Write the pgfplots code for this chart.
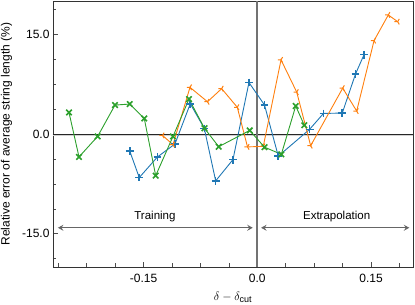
\documentclass[border=0pt]{standalone}
\usepackage{pgfplots}
\pgfplotsset{compat=1.18}
\usepackage{fontspec}
\setmainfont{Liberation Sans}
\usetikzlibrary{arrows.meta}
\definecolor{tabblue}{HTML}{1F77B4}
\definecolor{taborange}{HTML}{FF7F0E}
\definecolor{tabgreen}{HTML}{2CA02C}
\begin{document}
\begin{tikzpicture}
\begin{axis}[
  scale only axis, width=360pt, height=266pt,
  xmin=-0.2695, xmax=0.2054, ymin=-20, ymax=20,
  xtick={-0.15,0,0.15}, xticklabels={-0.15,0.0,0.15},
  minor xtick={-0.2625,-0.225,-0.1875,-0.1125,-0.075,-0.0375,0.0375,0.075,0.1125,0.1875},
  ytick={-15,0,15}, yticklabels={-15.0,0.0,15.0},
  minor ytick={-18.75,-11.25,-7.5,-3.75,3.75,7.5,11.25,18.75},
  tick align=inside, xtick pos=bottom, ytick pos=left,
  major tick length=5pt, minor tick length=3.5pt,
  tick style={black!70, line width=0.6pt},
  axis line style={black!80, line width=0.8pt},
  font=\fontsize{12}{14}\selectfont,
  xlabel={$\delta-\delta_{\mbox{\fontsize{9}{10}\selectfont cut}}$},
  ylabel={Relative error of average string length (\%)},
  xlabel style={at={(axis description cs:0.5,-0.1128)}, anchor=center},
  ylabel style={at={(axis description cs:-0.129,0.5)}, anchor=center, rotate=0},
  xticklabel style={yshift=-3.5pt},
  yticklabel style={xshift=0pt},
  clip=false,
]
% reference lines
\draw[gray!35, line width=2.2pt] (rel axis cs:0,0.4963) -- (rel axis cs:1,0.4963);
\draw[black!85, line width=0.8pt] (rel axis cs:0,0.5) -- (rel axis cs:1,0.5);
\draw[black!55, line width=1.6pt] (axis cs:0,-20) -- (axis cs:0,20);
% arrows
\draw[{Stealth[length=5.5pt,width=6pt,inset=2pt]}-{Stealth[length=5.5pt,width=6pt,inset=2pt]}, black!60, line width=1.3pt] (axis cs:-0.263,-14.1) -- (axis cs:-0.006,-14.1);
\draw[{Stealth[length=5.5pt,width=6pt,inset=2pt]}-{Stealth[length=5.5pt,width=6pt,inset=2pt]}, black!60, line width=1.3pt] (axis cs:0.005,-14.1) -- (axis cs:0.2005,-14.1);
\node[font=\fontsize{11.5}{13}\selectfont] at (axis cs:-0.135,-12.36) {Training};
\node[font=\fontsize{11.5}{13}\selectfont] at (axis cs:0.1047,-12.36) {Extrapolation};
% blue
\addplot[tabblue, line width=0.9pt, mark=+, mark size=3.9pt, mark options={line width=1.6pt}] coordinates {
(-0.1683,-2.55) (-0.1557,-6.55) (-0.1317,-3.45) (-0.1086,-1.50) (-0.0884,4.55)
(-0.0699,0.84) (-0.0549,-7.05) (-0.0321,-3.85) (-0.0110,7.74) (0.0095,4.37)
(0.0277,-3.33) (0.0690,0.70) (0.0873,3.09) (0.1121,3.15) (0.1296,9.04) (0.1408,11.93)
};
% orange
\addplot[taborange, line width=0.9pt, mark=Mercedes star, mark size=3.2pt, mark options={line width=1pt, rotate=90}] coordinates {
(-0.1250,-0.22) (-0.1112,-1.60) (-0.0888,7.02) (-0.0657,4.85) (-0.0470,6.82)
(-0.0264,4.02) (-0.0129,-1.94) (0.0079,-1.86) (0.0313,11.15) (0.0520,6.30)
(0.0704,-1.76) (0.1127,6.90) (0.1311,3.45) (0.1540,14.04) (0.1728,17.90) (0.1852,16.89)
};
% green
\addplot[tabgreen, line width=0.9pt, mark=x, mark size=3.9pt, mark options={line width=1.6pt}] coordinates {
(-0.2484,3.24) (-0.2352,-3.45) (-0.2106,-0.36) (-0.1877,4.35) (-0.1683,4.50)
(-0.1491,2.34) (-0.1340,-6.26) (-0.1112,-0.36) (-0.0901,5.25) (-0.0697,0.87)
(-0.0509,-1.91) (-0.0100,0.54) (0.0095,-1.98) (0.0317,-3.06) (0.0507,4.21) (0.0620,1.32)
};
\end{axis}
\pgfresetboundingbox
\path ([shift={(-53pt,-38pt)}]current axis.south west) rectangle ([shift={(2pt,1pt)}]current axis.north east);
\end{tikzpicture}
\end{document}
